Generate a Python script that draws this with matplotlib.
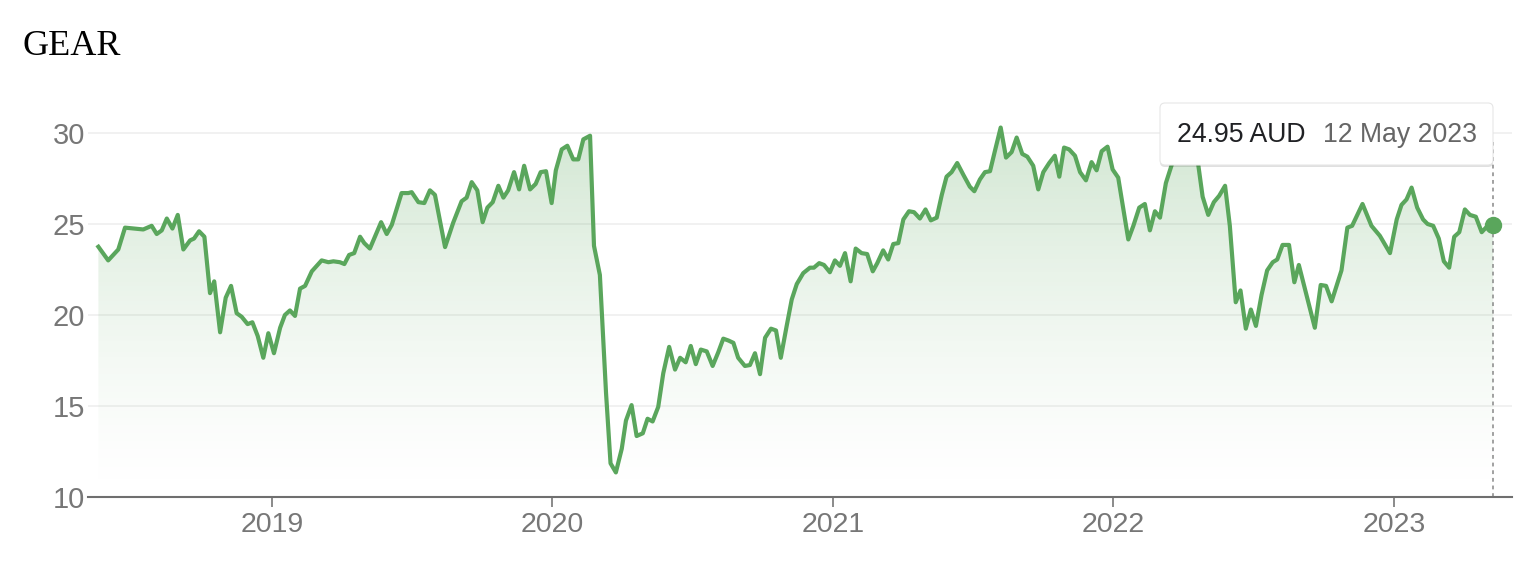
import numpy as np
import matplotlib
matplotlib.use("Agg")
import matplotlib.pyplot as plt
from matplotlib.patches import FancyBboxPatch
from matplotlib.transforms import IdentityTransform

# ---------------- data (decimal year, price in AUD) ----------------
years = [
    2018.381, 2018.416, 2018.452, 2018.476, 2018.523, 2018.541, 2018.571, 2018.589,
    2018.607, 2018.625, 2018.645, 2018.664, 2018.684, 2018.708, 2018.722, 2018.740,
    2018.759, 2018.779, 2018.794, 2018.815, 2018.835, 2018.854, 2018.874, 2018.892,
    2018.913, 2018.930, 2018.949, 2018.969, 2018.987, 2019.007, 2019.029, 2019.046,
    2019.064, 2019.082, 2019.100, 2019.118, 2019.142, 2019.177, 2019.201, 2019.219,
    2019.242, 2019.258, 2019.275, 2019.293, 2019.314, 2019.329, 2019.349, 2019.389,
    2019.409, 2019.427, 2019.462, 2019.486, 2019.498, 2019.522, 2019.543, 2019.563,
    2019.581, 2019.617, 2019.646, 2019.676, 2019.694, 2019.712, 2019.732, 2019.751,
    2019.768, 2019.787, 2019.807, 2019.825, 2019.842, 2019.863, 2019.881, 2019.899,
    2019.920, 2019.940, 2019.958, 2019.977, 2019.997, 2020.012, 2020.033, 2020.053,
    2020.074, 2020.092, 2020.110, 2020.134, 2020.148, 2020.169, 2020.191, 2020.207,
    2020.226, 2020.247, 2020.262, 2020.282, 2020.300, 2020.322, 2020.339, 2020.357,
    2020.377, 2020.395, 2020.416, 2020.437, 2020.455, 2020.475, 2020.493, 2020.511,
    2020.529, 2020.550, 2020.571, 2020.591, 2020.609, 2020.627, 2020.645, 2020.662,
    2020.686, 2020.704, 2020.722, 2020.740, 2020.758, 2020.779, 2020.797, 2020.814,
    2020.835, 2020.853, 2020.871, 2020.894, 2020.918, 2020.932, 2020.951, 2020.968,
    2020.989, 2021.007, 2021.025, 2021.043, 2021.063, 2021.081, 2021.102, 2021.122,
    2021.142, 2021.158, 2021.179, 2021.197, 2021.215, 2021.233, 2021.251, 2021.271,
    2021.289, 2021.310, 2021.330, 2021.349, 2021.370, 2021.388, 2021.405, 2021.423,
    2021.443, 2021.465, 2021.488, 2021.504, 2021.524, 2021.542, 2021.560, 2021.578,
    2021.598, 2021.617, 2021.637, 2021.655, 2021.675, 2021.693, 2021.714, 2021.732,
    2021.750, 2021.771, 2021.791, 2021.807, 2021.824, 2021.842, 2021.863, 2021.881,
    2021.902, 2021.922, 2021.940, 2021.958, 2021.979, 2021.997, 2022.017, 2022.053,
    2022.071, 2022.092, 2022.112, 2022.130, 2022.148, 2022.166, 2022.187, 2022.213,
    2022.230, 2022.258, 2022.287, 2022.302, 2022.318, 2022.338, 2022.358, 2022.377,
    2022.398, 2022.415, 2022.436, 2022.453, 2022.472, 2022.490, 2022.508, 2022.528,
    2022.548, 2022.568, 2022.584, 2022.603, 2022.626, 2022.645, 2022.661, 2022.689,
    2022.718, 2022.739, 2022.758, 2022.778, 2022.813, 2022.834, 2022.851, 2022.888,
    2022.920, 2022.950, 2022.986, 2023.010, 2023.027, 2023.045, 2023.063, 2023.083,
    2023.104, 2023.120, 2023.140, 2023.160, 2023.178, 2023.197, 2023.215, 2023.233,
    2023.253, 2023.271, 2023.292, 2023.313, 2023.331, 2023.354,
]
prices = [
    23.75, 23.00, 23.60, 24.80, 24.73, 24.70, 24.90, 24.45,
    24.65, 25.30, 24.75, 25.50, 23.60, 24.10, 24.20, 24.60,
    24.30, 21.20, 21.85, 19.05, 20.95, 21.60, 20.10, 19.90,
    19.50, 19.60, 18.85, 17.65, 19.00, 17.90, 19.30, 20.00,
    20.25, 19.95, 21.45, 21.60, 22.40, 23.00, 22.90, 22.95,
    22.90, 22.80, 23.30, 23.40, 24.30, 23.95, 23.65, 25.10,
    24.45, 24.95, 26.70, 26.70, 26.75, 26.20, 26.15, 26.85,
    26.60, 23.73, 25.07, 26.25, 26.45, 27.30, 26.85, 25.10,
    25.90, 26.20, 27.10, 26.45, 26.85, 27.85, 26.90, 28.20,
    26.90, 27.20, 27.85, 27.90, 26.15, 27.95, 29.10, 29.30,
    28.55, 28.55, 29.65, 29.85, 23.80, 22.20, 15.70, 11.85,
    11.35, 12.65, 14.20, 15.05, 13.35, 13.50, 14.30, 14.15,
    14.95, 16.80, 18.25, 17.00, 17.65, 17.40, 18.30, 17.30,
    18.10, 18.00, 17.20, 17.95, 18.70, 18.60, 18.47, 17.65,
    17.20, 17.25, 17.90, 16.75, 18.75, 19.25, 19.15, 17.65,
    19.40, 20.85, 21.70, 22.30, 22.60, 22.60, 22.85, 22.75,
    22.35, 23.00, 22.70, 23.40, 21.85, 23.65, 23.40, 23.35,
    22.40, 22.85, 23.55, 23.05, 23.90, 23.95, 25.25, 25.70,
    25.65, 25.30, 25.80, 25.20, 25.35, 26.60, 27.60, 27.85,
    28.35, 27.70, 27.05, 26.80, 27.45, 27.85, 27.90, 29.05,
    30.30, 28.65, 28.95, 29.75, 28.85, 28.70, 28.20, 26.90,
    27.85, 28.35, 28.75, 27.60, 29.20, 29.10, 28.75, 27.85,
    27.40, 28.40, 27.95, 29.00, 29.25, 28.00, 27.55, 24.15,
    24.90, 25.90, 26.10, 24.65, 25.70, 25.35, 27.25, 28.50,
    29.10, 29.55, 29.00, 28.30, 26.50, 25.50, 26.20, 26.55,
    27.10, 24.90, 20.70, 21.35, 19.25, 20.30, 19.40, 21.10,
    22.45, 22.90, 23.05, 23.85, 23.85, 21.80, 22.75, 21.05,
    19.30, 21.65, 21.60, 20.75, 22.45, 24.80, 24.90, 26.10,
    24.90, 24.35, 23.40, 25.25, 26.05, 26.35, 27.00, 25.90,
    25.25, 25.00, 24.90, 24.20, 22.95, 22.60, 24.30, 24.55,
    25.80, 25.50, 25.40, 24.55, 24.85, 24.95,
]
year_ticks = [2019, 2020, 2021, 2022, 2023]
y_ticks = [10, 15, 20, 25, 30]
title = "GEAR"
currency = "AUD"
last_date_label = "12 May 2023"

# ---------------- styling ----------------
GREEN = "#5aa65c"
GREEN_RGB = (0.353, 0.651, 0.361)
GRAY_TXT = "#777777"
W, H = 1520, 570

fig = plt.figure(figsize=(W / 100, H / 100), dpi=100)
fig.patch.set_facecolor("white")

ax_left, ax_right, ax_bottom, ax_top = 88, 1512, 497, 96.6
ax = fig.add_axes([ax_left / W, 1 - ax_bottom / H,
                   (ax_right - ax_left) / W, (ax_bottom - ax_top) / H])
xmin, xmax = 2018.344, 2023.421
ymin, ymax = 10, 32

# gradient fill under the line
fill = ax.fill_between(years, prices, ymin, color="none", lw=0)
n = 256
t = np.linspace(0, 1, n)
img = np.ones((n, 1, 4))
img[..., 0] = GREEN_RGB[0]
img[..., 1] = GREEN_RGB[1]
img[..., 2] = GREEN_RGB[2]
img[:, 0, 3] = 0.28 * t ** 1.4
im = ax.imshow(img, extent=[xmin, xmax, ymin, 30.5], origin="lower",
               aspect="auto", zorder=1, interpolation="bilinear")
im.set_clip_path(fill.get_paths()[0], transform=ax.transData)

# line
ax.plot(years, prices, color=GREEN, lw=3.0, zorder=3, solid_joinstyle="round")

# vertical dotted line and end dot
ax.vlines(years[-1], ymin, 29.5, colors="#888888", lw=1.1,
          linestyles=(0, (2.5, 2.5)), zorder=2)
ax.plot([years[-1]], [prices[-1]], "o", ms=11.5, color=GREEN, zorder=5,
        clip_on=False)

ax.set_xlim(xmin, xmax)
ax.set_ylim(ymin, ymax)

# axes styling
for s in ["top", "right", "left"]:
    ax.spines[s].set_visible(False)
ax.spines["bottom"].set_color("#6f6f6f")
ax.spines["bottom"].set_linewidth(1.5)
ax.spines["bottom"].set_zorder(4)

ax.set_yticks(y_ticks)
ax.set_yticklabels([str(v) for v in y_ticks])
ax.set_xticks(year_ticks)
ax.set_xticklabels([str(y) for y in year_ticks])
ax.yaxis.grid(True, color="#ededed", lw=1.1, zorder=0)
ax.set_axisbelow(True)
ax.tick_params(axis="y", length=0, pad=2, labelsize=21, labelcolor=GRAY_TXT)
ax.tick_params(axis="x", length=7, width=1.2, color="#777777", pad=4,
               labelsize=20.5, labelcolor=GRAY_TXT)
for lab in ax.get_xticklabels() + ax.get_yticklabels():
    lab.set_family("Liberation Sans")

# title
fig.text(22 / W, 1 - 55 / H, title, family="Liberation Serif", size=26,
         ha="left", va="baseline", color="black")

# tooltip box (pixel coordinates)
bx0, by0, bx1, by1 = 1160, 570 - 165, 1493, 570 - 103
shadow = FancyBboxPatch((bx0, by0 - 2), bx1 - bx0, by1 - by0,
                        boxstyle="round,pad=0,rounding_size=5",
                        transform=IdentityTransform(), facecolor="#000000",
                        alpha=0.12, edgecolor="none", zorder=9)
box = FancyBboxPatch((bx0, by0), bx1 - bx0, by1 - by0,
                     boxstyle="round,pad=0,rounding_size=5",
                     transform=IdentityTransform(), facecolor="white",
                     edgecolor="#e6e6e6", lw=0.8, zorder=10)
fig.patches.extend([shadow, box])
fig.text(1177 / W, 1 - 142 / H, f"{prices[-1]:.2f} {currency}",
         family="Liberation Sans", size=19.2, color="#202124",
         ha="left", va="baseline", zorder=11)
fig.text(1323 / W, 1 - 142 / H, last_date_label,
         family="Liberation Sans", size=19.2, color="#666666",
         ha="left", va="baseline", zorder=11)

fig.savefig("out.png", dpi=100, facecolor="white")
